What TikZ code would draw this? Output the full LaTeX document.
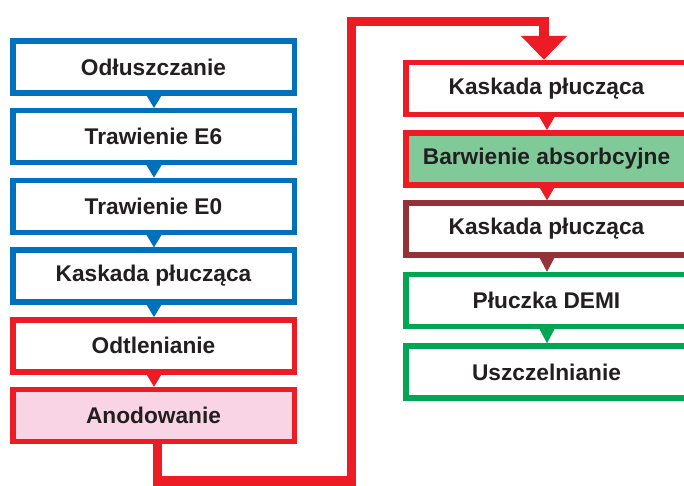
\documentclass[tikz,border=0pt]{standalone}
\usepackage{fontspec}
\setmainfont{Liberation Sans}
\usetikzlibrary{arrows.meta}
\definecolor{cblue}{HTML}{0072BC}
\definecolor{cred}{HTML}{ED1C24}
\definecolor{cbrown}{HTML}{933338}
\definecolor{cgreen}{HTML}{00A651}
\definecolor{fgreen}{HTML}{80CA9A}
\definecolor{fpink}{HTML}{F9D4E4}
\definecolor{ctext}{HTML}{231F20}
\tikzset{
  stepbox/.style={draw, line width=5.5pt, outer sep=2.75pt, inner sep=0pt,
    minimum width=281.5pt, minimum height=52pt, fill=white,
    font=\fontsize{22.7}{26}\selectfont\bfseries, text=ctext},
  flow/.style={draw=cred, line width=9.5pt, line join=miter, line cap=butt,
    -{Triangle[width=45pt,length=24pt]}},
}
\begin{document}
\begin{tikzpicture}[x=1pt,y=-1pt]
\useasboundingbox (0,0) rectangle (684,485);
\clip (0,0) rectangle (684,485);
% left column
\node[stepbox, draw=cblue] (l1) at (153.5,67) {Odłuszczanie};
\node[stepbox, draw=cblue] (l2) at (153.5,136.7) {Trawienie E6};
\node[stepbox, draw=cblue] (l3) at (153.5,206.4) {Trawienie E0};
\node[stepbox, draw=cblue] (l4) at (153.5,276.1) {Kaskada płucząca};
\node[stepbox, draw=cred] (l5) at (153.5,345.8) {Odtlenianie};
\node[stepbox, draw=cred, fill=fpink] (l6) at (153.5,415.5) {Anodowanie};
% right column
\node[stepbox, draw=cred] (r1) at (546.5,88.5) {Kaskada płucząca};
\node[stepbox, draw=cred, fill=fgreen] (r2) at (546.5,158.8) {Barwienie absorbcyjne};
\node[stepbox, draw=cbrown] (r3) at (546.5,229) {Kaskada płucząca};
\node[stepbox, draw=cgreen] (r4) at (546.5,300.5) {Płuczka DEMI};
\node[stepbox, draw=cgreen] (r5) at (546.5,372) {Uszczelnianie};
% small pointers
\foreach \a/\b/\c in {l1/l2/cblue, l2/l3/cblue, l3/l4/cblue, l4/l5/cblue, l5/l6/cred,
                      r1/r2/cred, r2/r3/cred, r3/r4/cbrown, r4/r5/cgreen}
  \fill[\c] ([xshift=-7.5pt,yshift=1pt]\a.south) -- ([xshift=8.5pt,yshift=1pt]\a.south)
     -- ([xshift=0.5pt]\b.north) -- cycle;
% big connector
\coordinate (c1) at (351.5,481);
\coordinate (c2) at (351.5,21.5);
\draw[flow] ([xshift=4pt,yshift=3pt]l6.south) |- (c1) -- (c2) -| ([xshift=-2.5pt]r1.north);
\end{tikzpicture}
\end{document}
